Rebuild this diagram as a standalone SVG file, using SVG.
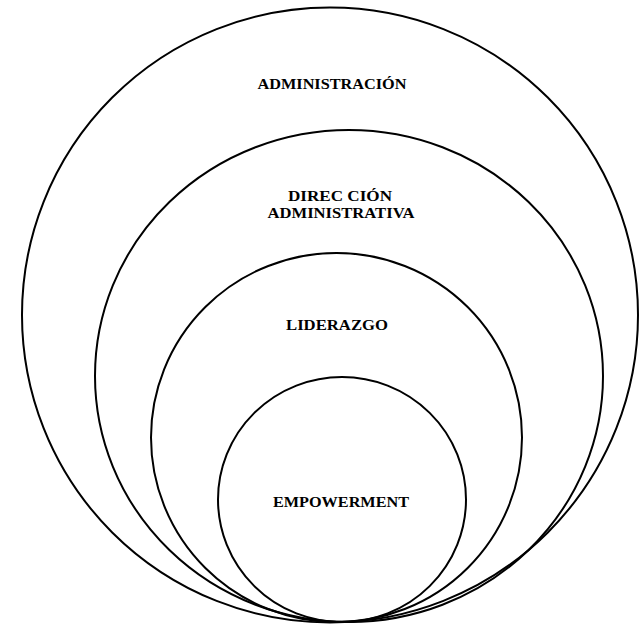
<svg xmlns="http://www.w3.org/2000/svg" width="639" height="625" viewBox="0 0 639 625">
  <style>
    .ring { fill: none; stroke: #000; stroke-width: 2; }
    .label { font-family: "Liberation Serif", "Times New Roman", serif; font-weight: bold; font-size: 14px; fill: #000; text-anchor: middle; }
  </style>
  <rect width="639" height="625" fill="#fff"/>
  <g id="administracion">
    <ellipse class="ring" cx="330" cy="315" rx="308" ry="307.5"/>
    <text class="label" x="332" y="89" textLength="149" lengthAdjust="spacingAndGlyphs">ADMINISTRACIÓN</text>
  </g>
  <g id="direccion-administrativa">
    <ellipse class="ring" cx="349" cy="376" rx="254" ry="246"/>
    <text class="label" x="340" y="201" textLength="104" lengthAdjust="spacingAndGlyphs">DIREC CIÓN</text>
    <text class="label" x="341" y="218" textLength="147" lengthAdjust="spacingAndGlyphs">ADMINISTRATIVA</text>
  </g>
  <g id="liderazgo">
    <ellipse class="ring" cx="336.5" cy="437.5" rx="185.5" ry="184.5"/>
    <text class="label" x="337" y="330" textLength="102" lengthAdjust="spacingAndGlyphs">LIDERAZGO</text>
  </g>
  <g id="empowerment">
    <ellipse class="ring" cx="342" cy="499.5" rx="124" ry="122.5"/>
    <text class="label" x="341" y="507" textLength="136" lengthAdjust="spacingAndGlyphs">EMPOWERMENT</text>
  </g>
</svg>
